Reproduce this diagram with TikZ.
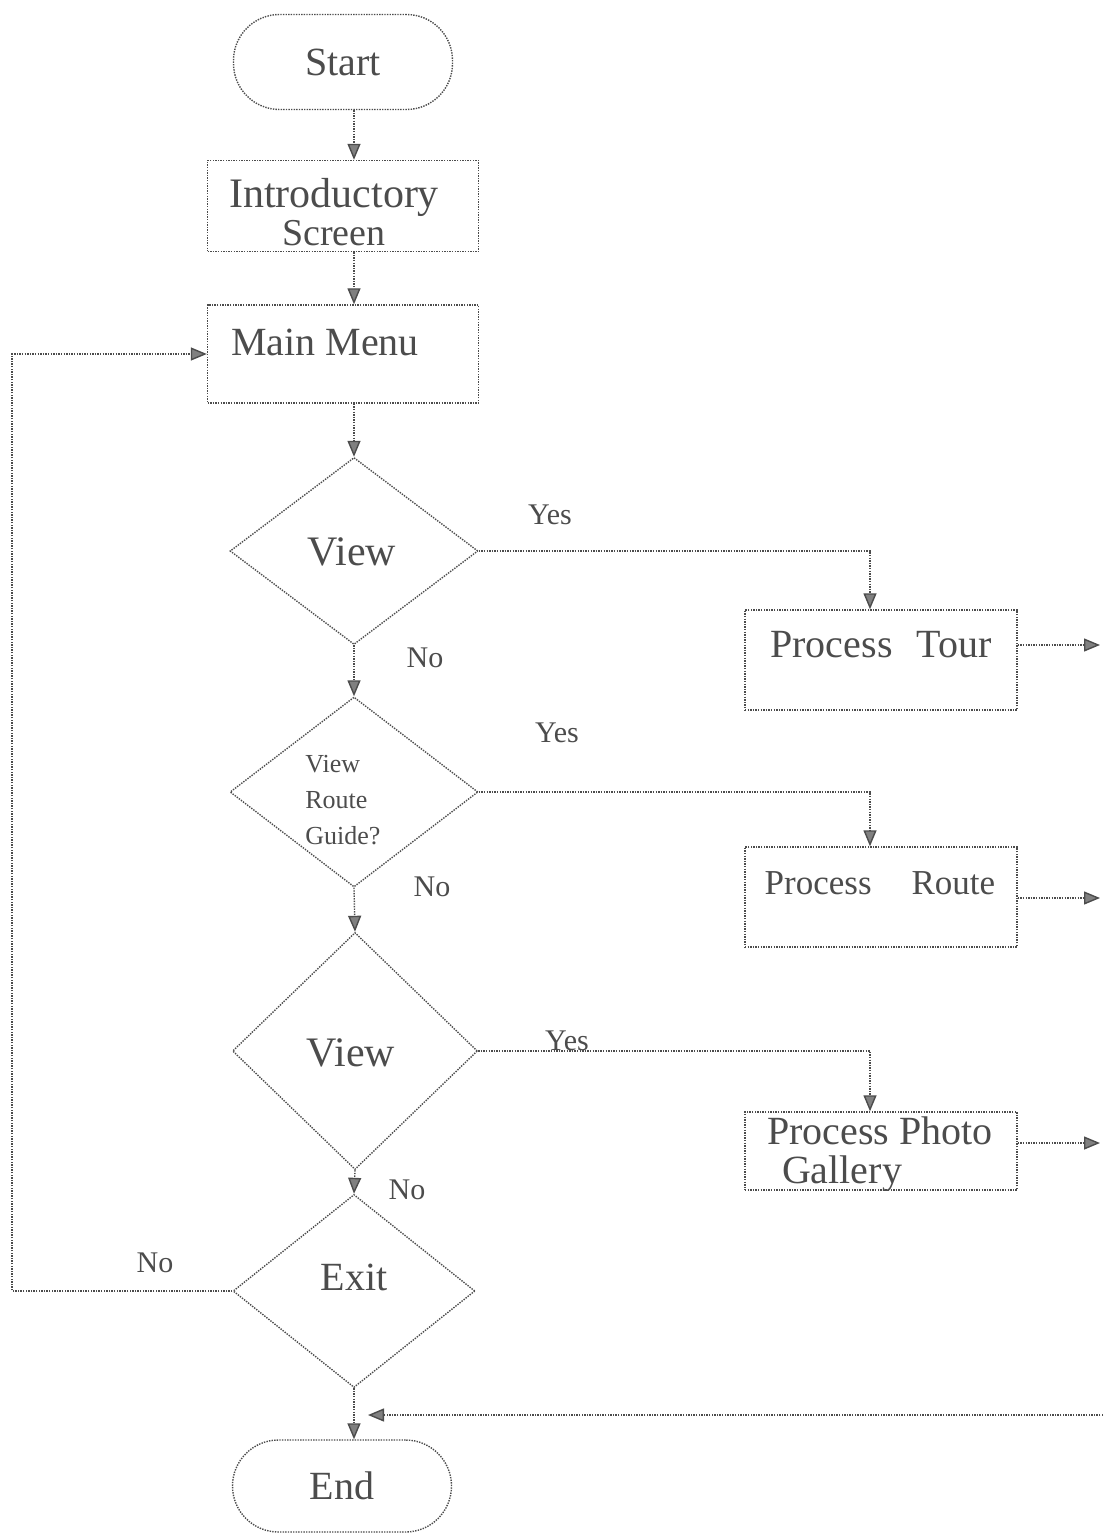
\documentclass[tikz,border=0pt]{standalone}
\usepackage{fontspec}
\setmainfont{Liberation Serif}
\usetikzlibrary{shapes.geometric,arrows.meta,calc}
\begin{document}
\begin{tikzpicture}[x=0.5pt,y=-0.5pt,
  ln/.style={draw=black!70, line width=0.7pt, dash pattern=on 0.7pt off 0.6pt},
  arr/.style={ln, -{Triangle[width=6.5pt,length=8pt,color=black!70,fill=black!50]}},
  term/.style={ln, rectangle, rounded corners=23pt, minimum width=109.5pt, inner sep=0pt, text=black!70, font=\fontsize{20}{24}\selectfont},
  box/.style={ln, rectangle, minimum width=135.5pt, inner sep=0pt},
  dec/.style={ln, diamond, inner sep=0pt},
  txt/.style={text=black!70, inner sep=0pt, font=\fontsize{20}{24}\selectfont},
  lab/.style={text=black!70, inner sep=0pt, font=\fontsize{15}{18}\selectfont}]
\useasboundingbox (0,0) rectangle (1103,1535);
% column 1
\node[term, minimum height=47.5pt] (start) at (343,62) {Start};
\node[box, minimum height=45.5pt] (intro) at (343,206) {};
\node[txt, align=center, font=\fontsize{21}{19}\selectfont] (introt) at (334,212) {Introductory\\{\fontsize{19}{19}\selectfont Screen}};
\node[box, minimum height=49pt] (menu) at (343,354) {};
\node[txt] (menut) at (325,342) {Main Menu};
\node[dec, minimum width=124pt, minimum height=93.5pt] (d1) at (354,551) {};
\node[txt, font=\fontsize{21}{26}\selectfont] (d1t) at (352,552) {View};
\node[dec, minimum width=124pt, minimum height=95pt] (d2) at (354,792) {};
\node[txt, font=\fontsize{13}{18}\selectfont, align=left, anchor=west] (d2t) at (305,800) {View\\Route\\Guide?};
\node[dec, minimum width=122.5pt, minimum height=118.5pt] (d3) at (355,1051) {};
\node[txt, font=\fontsize{21}{26}\selectfont] (d3t) at (351,1053) {View};
\node[dec, minimum width=121pt, minimum height=96.5pt] (d4) at (354,1291) {};
\node[txt] (d4t) at (354,1277) {Exit};
\node[term, minimum height=46pt] (end) at (342,1486) {End};
% column 2
\node[box, minimum width=136pt, minimum height=50pt] (tour) at (881,660) {};
\node[txt] (tourt) at (881,645) {Process\hspace{0.6em}Tour};
\node[box, minimum width=136pt, minimum height=50pt] (route) at (881,897) {};
\node[txt, font=\fontsize{17.5}{20}\selectfont] (routet) at (880,883) {Process\hspace{20pt}Route};
\node[box, minimum width=136pt, minimum height=39pt] (photo) at (881,1151) {};
\node[txt] (photot) at (880,1131) {Process Photo};
\begin{scope}
\clip (photo.south west) rectangle (photo.north east);
\node[txt] (gallt) at (842,1174) {Gallery};
\end{scope}
% free ends
\coordinate (ta) at (1100,645);
\coordinate (ra) at (1100,898);
\coordinate (pa) at (1100,1143);
\coordinate (ret) at (1103,1415);
\coordinate (retend) at (368,1415);
\coordinate (loopx) at (12,0);
% connectors
\draw[arr] (start.south -| d1.north) -- (intro.north -| d1.north);
\draw[arr] (intro.south -| d1.north) -- (menu.north -| d1.north);
\draw[arr] (menu.south -| d1.north) -- (d1.north);
\draw[arr] (d1.south) -- (d2.north);
\draw[arr] (d2.south) -- (d3.north);
\draw[arr] (d3.south) -- (d4.north);
\draw[arr] (d4.south) -- (end.north -| d4.south);
\draw[arr] (d1.east) -| ($(tour.north)+(-11,0)$);
\draw[arr] (d2.east) -| ($(route.north)+(-11,0)$);
\draw[arr] (d3.east) -| ($(photo.north)+(-11,0)$);
\draw[arr] (tour.east |- ta) -- (ta);
\draw[arr] (route.east |- ra) -- (ra);
\draw[arr] (photo.east |- pa) -- (pa);
\draw[arr] (ret) -- (retend);
\draw[arr] (d4.west) -- (d4.west -| loopx) |- (menu.west);
% labels
\node[lab] (y1) at (550,515) {Yes};
\node[lab] (n1) at (425,658) {No};
\node[lab] (y2) at (557,733) {Yes};
\node[lab] (n2) at (432,887) {No};
\node[lab] (y3) at (567,1041) {Yes};
\node[lab] (n3) at (407,1190) {No};
\node[lab] (n4) at (155,1263) {No};
\end{tikzpicture}
\end{document}
